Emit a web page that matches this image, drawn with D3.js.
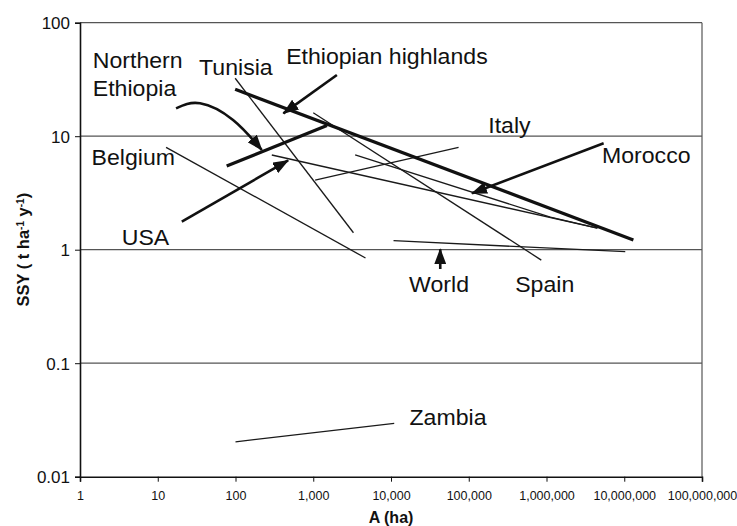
<!DOCTYPE html>
<html>
<head>
<meta charset="utf-8">
<script src="https://cdn.jsdelivr.net/npm/d3@7"></script>
<style>
body { margin: 0; background: #fff; }
text { font-family: "Liberation Sans", Arial, sans-serif; fill: #111; }
</style>
</head>
<body>
<script>

// axis ticks
var xTicks = [1, 10, 100, 1000, 10000, 100000, 1000000, 10000000, 100000000];
var yTicks = [0.01, 0.1, 1, 10, 100];
var gridValues = [0.1, 1, 10, 100];

// regression lines, points as [A (ha), SSY (t/ha/y)]
var highlands = [[99, 25.9], [13100000, 1.22]];
var northernEthiopia = [[77, 5.46], [1500, 12.4]];
var tunisia = [[99, 32.4], [3290, 1.41]];
var belgium = [[12.8, 7.98], [4700, 0.845]];
var spain = [[1000, 16.1], [857000, 0.81]];
var usa = [[293, 6.83], [4510000, 1.55]];
var morocco = [[3460, 6.83], [1120000, 1.94], [4510000, 1.55]];
var italy = [[1058, 4.11], [74000, 7.98]];
var world = [[10770, 1.2], [10300000, 0.96]];
var zambia = [[100, 0.0203], [11000, 0.0295]];

var thinLines = [tunisia, belgium, spain, usa, morocco, italy, world, zambia];
var thickLines = [highlands, northernEthiopia];

// text labels: name, A, SSY (left end of the baseline)
var labelNames = ["Northern", "Ethiopia", "Tunisia", "Ethiopian highlands", "Belgium", "USA",
                  "Italy", "Morocco", "World", "Spain", "Zambia"];
var labelA = [1.46, 1.46, 34, 448, 1.41, 3.44, 178000, 5170000, 17100, 396000, 17300];
var labelSSY = [39.7, 22.4, 34.6, 43.7, 5.52, 1.1, 10.7, 5.77, 0.424, 0.426, 0.0285];

// pointer arrows, from tail to head
var arrowHighlands = [[2013, 34.6], [413, 15.9]];
var arrowNorthern = [[17.2, 17.6], [35, 19.5], [93, 13.9], [218, 7.56]];
var arrowUsa = [[20.4, 1.77], [475, 6.11]];
var arrowMorocco = [[5430000, 8.66], [110000, 3.14]];
var arrowWorld = [[43000, 0.676], [43000, 1.01]];

var W = 737, H = 526;
var margin = {top: 22.7, right: 35, bottom: 49.3, left: 80};

var svg = d3.select("body").append("svg")
    .attr("width", W)
    .attr("height", H);

// scales
var x = d3.scaleLog()
    .domain([1, 1e8])
    .range([margin.left, W - margin.right]);

var y = d3.scaleLog()
    .domain([0.01, 100])
    .range([H - margin.bottom, margin.top]);

// arrow head
svg.append("defs").append("marker")
    .attr("id", "head")
    .attr("markerUnits", "userSpaceOnUse")
    .attr("viewBox", "0 0 16 12")
    .attr("markerWidth", 16)
    .attr("markerHeight", 12)
    .attr("refX", 15)
    .attr("refY", 6)
    .attr("orient", "auto")
    .append("path")
    .attr("d", "M0,0 L16,6 L0,12 Z")
    .attr("fill", "#111");

// horizontal grid lines
svg.selectAll(".grid")
    .data(gridValues)
    .enter().append("line")
    .attr("class", "grid")
    .attr("x1", x(1))
    .attr("x2", x(1e8))
    .attr("y1", function(d) { return y(d); })
    .attr("y2", function(d) { return y(d); })
    .attr("stroke", "#555")
    .attr("stroke-width", 1.2);

// right border
svg.append("line")
    .attr("x1", x(1e8)).attr("x2", x(1e8))
    .attr("y1", y(100)).attr("y2", y(0.01))
    .attr("stroke", "#555")
    .attr("stroke-width", 1.2);

// x axis
var xAxis = svg.append("g")
    .attr("transform", "translate(0," + y(0.01) + ")")
    .call(d3.axisBottom(x).tickValues(xTicks).tickFormat(d3.format(",")).tickSize(5));
xAxis.select(".domain").attr("stroke", "#111").attr("stroke-width", 1.6);
xAxis.selectAll(".tick line").attr("stroke", "#111");
xAxis.selectAll(".tick text")
    .attr("y", 23)
    .attr("dy", 0)
    .style("font-size", "12.5px")
    .style("font-family", "'Liberation Sans', Arial, sans-serif")
    .attr("fill", "#111");

// y axis
var yAxis = svg.append("g")
    .attr("transform", "translate(" + x(1) + ",0)")
    .call(d3.axisLeft(y).tickValues(yTicks).tickFormat(function(d) { return String(d); }).tickSize(5));
yAxis.select(".domain").attr("stroke", "#111").attr("stroke-width", 1.6);
yAxis.selectAll(".tick line").attr("stroke", "#111");
yAxis.selectAll(".tick text")
    .attr("x", -10)
    .attr("dy", "0.36em")
    .style("font-size", "17px")
    .style("font-family", "'Liberation Sans', Arial, sans-serif")
    .attr("fill", "#111");

// axis titles
svg.append("text")
    .attr("x", (x(1) + x(1e8)) / 2)
    .attr("y", 523)
    .attr("text-anchor", "middle")
    .style("font-size", "16px")
    .style("font-weight", "bold")
    .text("A (ha)");

var yTitle = svg.append("text")
    .attr("transform", "translate(28.5," + ((y(100) + y(0.01)) / 2) + ") rotate(-90)")
    .attr("text-anchor", "middle")
    .style("font-size", "16.5px")
    .style("font-weight", "bold");
yTitle.append("tspan").text("SSY ( t ha");
yTitle.append("tspan").attr("baseline-shift", "super").style("font-size", "10px").text("-1");
yTitle.append("tspan").text(" y");
yTitle.append("tspan").attr("baseline-shift", "super").style("font-size", "10px").text("-1");
yTitle.append("tspan").text(")");

var line = d3.line()
    .x(function(d) { return x(d[0]); })
    .y(function(d) { return y(d[1]); });

// regression lines
svg.selectAll(".thin")
    .data(thinLines)
    .enter().append("path")
    .attr("class", "thin")
    .attr("d", line)
    .attr("fill", "none")
    .attr("stroke", "#1a1a1a")
    .attr("stroke-width", 1.3);

svg.selectAll(".thick")
    .data(thickLines)
    .enter().append("path")
    .attr("class", "thick")
    .attr("d", line)
    .attr("fill", "none")
    .attr("stroke", "#111")
    .attr("stroke-width", 3.2);

// arrows
var straightArrows = [arrowHighlands, arrowUsa, arrowMorocco, arrowWorld];
svg.selectAll(".arrow")
    .data(straightArrows)
    .enter().append("path")
    .attr("class", "arrow")
    .attr("d", line)
    .attr("fill", "none")
    .attr("stroke", "#111")
    .attr("stroke-width", 2.6)
    .attr("marker-end", "url(#head)");

var curved = d3.line()
    .x(function(d) { return x(d[0]); })
    .y(function(d) { return y(d[1]); })
    .curve(d3.curveNatural);

svg.append("path")
    .attr("d", curved(arrowNorthern))
    .attr("fill", "none")
    .attr("stroke", "#111")
    .attr("stroke-width", 2.6)
    .attr("marker-end", "url(#head)");

// labels
svg.selectAll(".label")
    .data(labelNames)
    .enter().append("text")
    .attr("class", "label")
    .attr("transform", function(d, i) {
        return "translate(" + x(labelA[i]) + "," + y(labelSSY[i]) + ") scale(1.05,1)";
    })
    .style("font-size", "22px")
    .text(function(d) { return d; });

</script>
</body>
</html>
